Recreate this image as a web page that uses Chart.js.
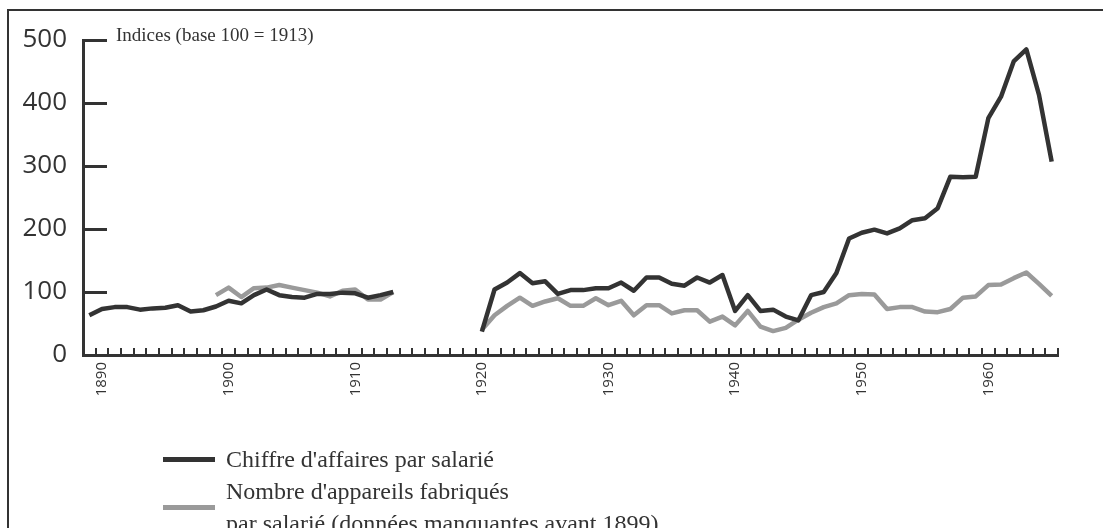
<!DOCTYPE html>
<html lang="fr">
<head>
<meta charset="UTF-8">
<title>Chiffre d'affaires et production par salarié, 1889-1965</title>
<script src="https://cdn.jsdelivr.net/npm/chart.js"></script>
<style>
  body { margin: 0; background: #fff; overflow: hidden; }
  #cadre { position: relative; width: 1103px; height: 528px; overflow: hidden; }
  #bord {
    position: absolute; left: 7px; top: 9px; right: -10px; bottom: -10px;
    border-left: 2.5px solid #333; border-top: 2.5px solid #333;
  }
  #graphe { position: absolute; left: 0; top: 0; }
  #unite {
    position: absolute; left: 116px; top: 25px;
    font: 19px/20px "Liberation Serif", serif; color: #333; white-space: nowrap;
  }
  #legende {
    position: absolute; left: 163px; top: 443px;
    font: 24px/32px "Liberation Serif", serif; color: #333;
  }
  .item { display: flex; align-items: center; }
  .trait { width: 52px; height: 5px; margin-right: 11px; flex: none; }
  .texte { white-space: pre-line; }
</style>
</head>
<body>
<div id="cadre">
  <div id="bord"></div>
  <canvas id="graphe" width="1103" height="528"></canvas>
  <div id="unite">Indices (base 100 = 1913)</div>
  <div id="legende"></div>
</div>

<script>
// années (une catégorie par an)
const years = [
  1889, 1890, 1891, 1892, 1893, 1894, 1895, 1896, 1897, 1898,
  1899, 1900, 1901, 1902, 1903, 1904, 1905, 1906, 1907, 1908,
  1909, 1910, 1911, 1912, 1913, 1914, 1915, 1916, 1917, 1918,
  1919, 1920, 1921, 1922, 1923, 1924, 1925, 1926, 1927, 1928,
  1929, 1930, 1931, 1932, 1933, 1934, 1935, 1936, 1937, 1938,
  1939, 1940, 1941, 1942, 1943, 1944, 1945, 1946, 1947, 1948,
  1949, 1950, 1951, 1952, 1953, 1954, 1955, 1956, 1957, 1958,
  1959, 1960, 1961, 1962, 1963, 1964, 1965
];

// chiffre d'affaires par salarié (indice 100 = 1913)
const caParSalarie = [
  63, 73, 76, 76, 72, 74, 75, 79, 69, 71,
  77, 86, 82, 95, 104, 95, 92, 91, 97, 97,
  99, 98, 91, 95, 100, null, null, null, null, null,
  null, 37, 104, 115, 130, 114, 117, 97, 103, 103,
  106, 106, 115, 102, 123, 123, 113, 110, 123, 115,
  127, 70, 95, 70, 72, 61, 55, 95, 100, 130,
  185, 194, 199, 193, 201, 214, 217, 233, 283, 282,
  283, 376, 410, 466, 485, 413, 307
];

// nombre d'appareils fabriqués par salarié (pas de données avant 1899)
const appareilsParSalarie = [
  null, null, null, null, null, null, null, null, null, null,
  95, 107, 92, 106, 107, 111, 107, 103, 99, 93,
  102, 104, 88, 88, 100, null, null, null, null, null,
  null, 40, 63, 78, 91, 78, 85, 90, 78, 78,
  90, 79, 86, 63, 79, 79, 66, 71, 71, 53,
  61, 47, 70, 45, 38, 43, 56, 67, 76, 82,
  95, 97, 96, 73, 76, 76, 69, 68, 73, 91,
  93, 111, 112, 122, 131, 113, 94
];

const yTicks = [0, 100, 200, 300, 400, 500];

const FONCE = '#333333';
const GRIS = '#9a9a9a';

// petites graduations : vers l'intérieur sur l'axe des y, entre les années sur l'axe des x
const graduations = {
  id: 'graduations',
  afterDraw(chart) {
    const { ctx, scales: { x, y } } = chart;
    ctx.save();
    ctx.strokeStyle = FONCE;
    ctx.lineCap = 'butt';

    ctx.lineWidth = 3;
    yTicks.forEach(v => {
      if (v === 0) return;
      const py = Math.round(y.getPixelForValue(v)) + 0.5;
      ctx.beginPath();
      ctx.moveTo(x.left, py);
      ctx.lineTo(x.left + 24, py);
      ctx.stroke();
    });

    ctx.lineWidth = 2;
    const demi = (x.getPixelForValue(1) - x.getPixelForValue(0)) / 2;
    for (let i = 0; i < years.length; i++) {
      const px = Math.round(x.getPixelForValue(i) + demi);
      ctx.beginPath();
      ctx.moveTo(px, y.bottom);
      ctx.lineTo(px, y.bottom - 7);
      ctx.stroke();
    }
    ctx.restore();
  }
};

const chart = new Chart(document.getElementById('graphe'), {
  type: 'line',
  data: {
    labels: years,
    datasets: [
      {
        label: "Chiffre d'affaires par salarié",
        data: caParSalarie,
        borderColor: FONCE,
        backgroundColor: FONCE,
        borderWidth: 4.5
      },
      {
        label: "Nombre d'appareils fabriqués\npar salarié (données manquantes avant 1899)",
        data: appareilsParSalarie,
        borderColor: GRIS,
        backgroundColor: GRIS,
        borderWidth: 4.5
      }
    ]
  },
  options: {
    responsive: false,
    animation: false,
    spanGaps: false,
    layout: { padding: { top: 40, right: 45, bottom: 0, left: 0 } },
    elements: {
      point: { radius: 0, hoverRadius: 0 },
      line: { tension: 0, borderJoinStyle: 'round', borderCapStyle: 'butt', fill: false }
    },
    plugins: {
      legend: { display: false },
      tooltip: { enabled: false },
      title: { display: false }
    },
    scales: {
      x: {
        type: 'category',
        offset: true,
        grid: { display: false, drawTicks: false, offset: true },
        border: { display: true, color: FONCE, width: 3 },
        ticks: {
          autoSkip: false,
          minRotation: 90,
          maxRotation: 90,
          padding: 7,
          color: FONCE,
          font: { family: '"Open Sans", sans-serif', size: 15 },
          callback(value) {
            const an = years[value];
            return an % 10 === 0 ? String(an) : '';
          }
        },
        afterFit(scale) { scale.height = 173; }
      },
      y: {
        min: 0,
        max: 500,
        grid: { display: false, drawTicks: false },
        border: { display: true, color: FONCE, width: 3 },
        ticks: {
          stepSize: 100,
          padding: 16,
          color: FONCE,
          font: { family: '"Open Sans", sans-serif', size: 26 }
        },
        afterFit(scale) { scale.width = 83; }
      }
    }
  },
  plugins: [graduations]
});

// légende construite à partir des séries du graphique
const legende = document.getElementById('legende');
chart.data.datasets.forEach(ds => {
  const item = document.createElement('div');
  item.className = 'item';
  const trait = document.createElement('span');
  trait.className = 'trait';
  trait.style.background = ds.borderColor;
  const texte = document.createElement('span');
  texte.className = 'texte';
  texte.textContent = ds.label;
  item.appendChild(trait);
  item.appendChild(texte);
  legende.appendChild(item);
});
</script>
</body>
</html>
